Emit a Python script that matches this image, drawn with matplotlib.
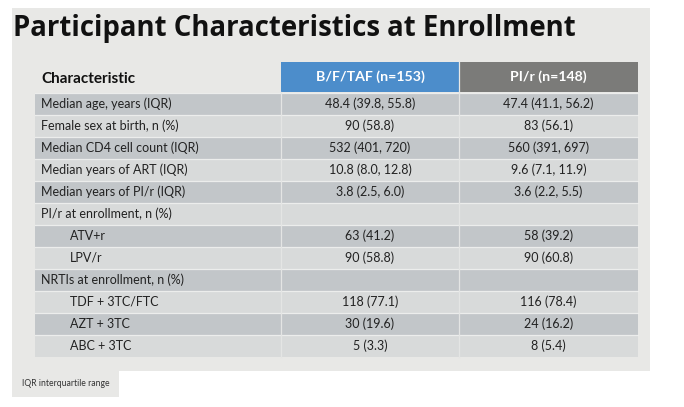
import matplotlib
matplotlib.use("Agg")
import matplotlib.pyplot as plt
from matplotlib.patches import Rectangle

title = "Participant Characteristics at Enrollment"
header = ["Characteristic", "B/F/TAF (n=153)", "PI/r (n=148)"]
labels = ["Median age, years (IQR)", "Female sex at birth, n (%)",
          "Median CD4 cell count (IQR)", "Median years of ART (IQR)",
          "Median years of PI/r (IQR)", "PI/r at enrollment, n (%)",
          "ATV+r", "LPV/r", "NRTIs at enrollment, n (%)",
          "TDF + 3TC/FTC", "AZT + 3TC", "ABC + 3TC"]
indent = [False, False, False, False, False, False,
          True, True, False, True, True, True]
bft = ["48.4 (39.8, 55.8)", "90 (58.8)", "532 (401, 720)", "10.8 (8.0, 12.8)",
       "3.8 (2.5, 6.0)", "", "63 (41.2)", "90 (58.8)", "",
       "118 (77.1)", "30 (19.6)", "5 (3.3)"]
pir = ["47.4 (41.1, 56.2)", "83 (56.1)", "560 (391, 697)", "9.6 (7.1, 11.9)",
       "3.6 (2.2, 5.5)", "", "58 (39.2)", "90 (60.8)", "",
       "116 (78.4)", "24 (16.2)", "8 (5.4)"]
footnote = "IQR interquartile range"

font = "Lato"
W, H = 684, 407
fig = plt.figure(figsize=(W / 100, H / 100), dpi=100)
ax = fig.add_axes([0, 0, 1, 1])
ax.set_xlim(0, W)
ax.set_ylim(H, 0)
ax.axis("off")

panel = "#e8e8e6"
dark = "#c2c6c9"
light = "#d8dada"
blue = "#4c8dcb"
grey = "#7b7b79"

# background panel and footnote box
ax.add_patch(Rectangle((12, 8), 638, 363, color=panel, lw=0))
ax.add_patch(Rectangle((12, 371), 107, 26, color=panel, lw=0))
ax.text(22, 384, footnote, fontsize=6.2, family=font, color="#333333", va="center")

ax.text(13, 36, title, fontsize=19.8, family="Open Sans", weight="bold",
        color="#111111", va="baseline")

x0, x1, x2, x3 = 35, 281, 459, 638
top, hh, rh = 62, 29.5, 22

# header
ax.add_patch(Rectangle((x1, top), x2 - x1, hh, color=blue, lw=0))
ax.add_patch(Rectangle((x2, top), x3 - x2, hh, color=grey, lw=0))
ax.text(x0 + 6, top + hh / 2 + 2, header[0], fontsize=11, family=font,
        weight="bold", color="#111111", va="center")
ax.text((x1 + x2) / 2, top + hh / 2, header[1], fontsize=10.2, family=font,
        weight="bold", color="white", va="center", ha="center")
ax.text((x2 + x3) / 2, top + hh / 2, header[2], fontsize=10.2, family=font,
        weight="bold", color="white", va="center", ha="center")

y = top + hh + 1.5
for i, lab in enumerate(labels):
    c = dark if i % 2 == 0 else light
    ax.add_patch(Rectangle((x0, y), x3 - x0, rh, color=c, lw=0))
    ax.plot([x0, x3], [y, y], color="#ecedec", lw=0.9)
    tx = x0 + 35 if indent[i] else x0 + 6
    ax.text(tx, y + rh / 2, lab, fontsize=9, family=font, color="#222222", va="center")
    ax.text((x1 + x2) / 2, y + rh / 2, bft[i], fontsize=9, family=font,
            color="#222222", va="center", ha="center")
    ax.text((x2 + x3) / 2, y + rh / 2, pir[i], fontsize=9, family=font,
            color="#222222", va="center", ha="center")
    y += rh

ax.plot([x1, x1], [top + hh, y], color="#e4e5e4", lw=0.9)
ax.plot([x2, x2], [top + hh, y], color="#e4e5e4", lw=0.9)
ax.plot([x2, x2], [top, top + hh], color="#e8e8e6", lw=0.9)

fig.savefig("out.png", dpi=100, facecolor="white")
